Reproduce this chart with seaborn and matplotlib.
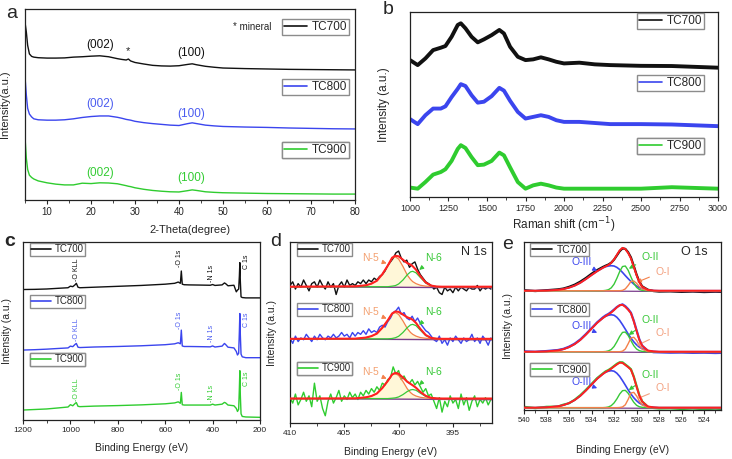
import numpy as np
import matplotlib
matplotlib.use("Agg")
import matplotlib.pyplot as plt
from matplotlib.lines import Line2D
from matplotlib.ticker import MultipleLocator
import seaborn as sns

W, H = 732, 459
names = ["TC700", "TC800", "TC900"]
line_colors = ["#111111", "#3b45ee", "#2fcc2f"]
text_colors = ["#111111", "#4b5cf0", "#33cc33"]

# ---- (a) XRD
xrd_theta = [5, 5.3, 5.6, 6, 6.5, 7, 8, 10, 12, 14, 16, 18, 20, 22, 24, 26, 27, 28, 28.5, 29,
             30, 32, 34, 36, 38, 40, 42, 43, 44, 46, 48, 50, 55, 60, 65, 70, 75, 80]
xrd_tc700 = [93, 88, 81, 76.5, 75.2, 74.8, 74.5, 74.3, 74.3, 74.4, 74.8, 75.0, 75.3, 75.5, 75.0, 74.0, 73.6,
             73.3, 73.8, 72.8, 72.0, 71.2, 70.5, 70.2, 70.1, 70.3, 71.0, 71.3, 70.8, 70.0, 69.5, 69.1,
             68.8, 68.6, 68.4, 68.3, 68.2, 68.1]
xrd_tc800 = [64.5, 55, 48, 45, 43.5, 42.5, 42.0, 41.8, 41.8, 42.0, 42.5, 43.2, 43.7, 44.0, 44.0, 43.3, 42.8,
             42.2, 42.0, 41.8, 41.2, 40.5, 40.0, 39.6, 39.2, 39.0, 40.0, 40.4, 40.0, 39.2, 38.8, 38.5,
             38.2, 38.0, 37.7, 37.5, 37.3, 37.2]
xrd_tc900 = [33, 22, 16, 13, 11.8, 11.0, 10.0, 9.0, 8.3, 7.9, 7.9, 8.8, 8.6, 9.0, 8.9, 8.5, 8.0,
             7.5, 7.2, 7.0, 6.4, 5.6, 5.0, 4.6, 4.3, 4.2, 4.9, 5.3, 5.0, 4.3, 4.0, 3.8,
             3.6, 3.4, 3.3, 3.2, 3.1, 3.1]

# ---- (b) Raman
raman_shift = [1000, 1050, 1100, 1150, 1200, 1230, 1270, 1310, 1330, 1360, 1400, 1440, 1480, 1530, 1580,
               1610, 1650, 1700, 1750, 1800, 1850, 1900, 1950, 2000, 2100, 2200, 2300, 2500, 2700, 3000]
raman_tc700 = [74.0, 71.3, 74.9, 79.4, 80.7, 81.6, 86.6, 93.0, 93.9, 91.2, 86.6, 83.6, 85.2, 87.5, 90.3,
               88.4, 81.2, 75.8, 74.0, 74.4, 75.5, 74.4, 73.1, 72.2, 72.6, 71.7, 71.3, 70.9, 70.8, 69.9]
raman_tc800 = [42.1, 39.4, 44.2, 47.8, 47.8, 49.0, 54.0, 58.5, 61.0, 60.0, 55.0, 51.0, 51.5, 54.5, 59.0,
               57.5, 52.0, 46.0, 42.4, 43.3, 44.2, 43.3, 41.5, 40.6, 40.6, 40.0, 39.4, 39.4, 39.2, 38.3]
raman_tc900 = [5.1, 4.5, 8.1, 12.1, 13.5, 15.0, 19.5, 26.0, 28.0, 26.5, 21.5, 17.2, 17.5, 19.5, 24.0,
               22.5, 16.0, 8.1, 4.5, 6.3, 7.2, 6.3, 5.1, 4.5, 4.5, 4.5, 4.5, 4.5, 5.3, 4.5]

# ---- (c) XPS survey
survey_ev = [1200, 1150, 1100, 1050, 1010, 1000, 990, 980, 975, 968, 960, 900, 800, 700, 600, 560, 545,
             536, 532, 528, 520, 500, 450, 410, 400, 390, 360, 350, 345, 335, 310, 300, 295, 290, 287,
             285, 283, 280, 275, 260, 230, 200]
survey_tc700 = [73.3, 73.4, 73.6, 74.0, 74.3, 75.2, 74.9, 76.0, 76.8, 74.6, 74.3, 74.6, 75.1, 75.6, 76.3,
                76.8, 77.5, 76.8, 83.7, 76.3, 76.0, 75.9, 75.8, 75.7, 76.1, 75.6, 75.9, 77.0, 76.6, 75.4,
                75.7, 72.0, 73.0, 73.5, 81.0, 88.4, 78.0, 69.2, 68.8, 68.6, 68.6, 68.6]
survey_tc800 = [39.3, 39.5, 39.8, 40.2, 40.5, 41.5, 41.2, 42.5, 43.0, 40.9, 40.7, 41.0, 41.3, 41.7, 42.3,
                42.8, 43.4, 42.8, 50.5, 41.6, 41.3, 41.3, 41.2, 41.1, 41.6, 41.0, 41.5, 43.0, 42.4, 40.9,
                40.5, 38.5, 36.5, 37.5, 50.0, 59.8, 48.0, 37.0, 35.5, 35.0, 35.0, 35.0]
survey_tc900 = [5.6, 5.9, 6.2, 6.8, 7.3, 8.6, 8.0, 9.3, 9.8, 7.7, 7.5, 7.8, 8.1, 8.5, 9.1,
                9.6, 10.2, 9.4, 15.5, 8.6, 8.4, 8.4, 8.4, 8.4, 8.9, 8.4, 8.9, 9.9, 9.6, 8.4,
                8.0, 6.5, 4.8, 6.0, 18.0, 27.7, 14.0, 3.5, 2.0, 1.7, 1.6, 1.5]
survey_labels = ["-O KLL", "-O 1s", "-N 1s", "C 1s"]
survey_label_ev = [973.6, 537.6, 404, 256]
survey_label_y = [[84.5, 90.7, 82.2, 88.8], [50.5, 56.1, 48.6, 56.1], [16.8, 21.5, 15.0, 23.4]]

# ---- (d) N 1s
n1s_ev = np.arange(410, 391.49, -0.25)
n1s_tc700 = [76, 78, 74, 77, 75, 79, 76, 73, 77, 78, 75, 79, 76, 74, 78, 75, 77, 71, 76, 78,
             75, 79, 76, 77, 76, 78, 77, 79, 77, 79, 78, 80, 79, 81, 82, 84, 87, 89, 91, 94,
             95, 91, 89, 90, 86, 88, 89, 85, 82, 80, 78, 77, 76, 74, 75, 72, 71, 75, 73, 74,
             72, 75, 73, 75, 74, 73, 75, 74, 74, 76, 73, 75, 74, 75, 74]
n1s_tc800 = [47, 44, 48, 45, 47, 46, 49, 47, 45, 48, 46, 49, 47, 46, 48, 47, 49, 47, 48, 50,
             48, 49, 47, 50, 48, 50, 49, 51, 49, 52, 50, 51, 50, 53, 54, 53, 56, 58, 61, 62,
             64, 60, 61, 58, 57, 59, 56, 58, 55, 53, 51, 50, 48, 46, 45, 48, 44, 46, 43, 47,
             45, 48, 46, 44, 47, 45, 46, 49, 45, 47, 44, 48, 46, 43, 47]
n1s_tc900 = [14, 11, 16, 10, 13, 17, 12, 15, 9, 22, 12, 15, 8, 4, 12, 16, 11, 14, 18, 12,
             15, 13, 17, 14, 16, 13, 17, 15, 18, 16, 19, 17, 20, 18, 22, 21, 24, 25, 31, 27,
             29, 24, 26, 23, 22, 24, 21, 23, 20, 17, 19, 15, 16, 12, 8, 14, 6, 12, 9, 15,
             11, 13, 8, 16, 10, 14, 7, 12, 15, 9, 13, 11, 14, 10, 13]
n1s_fit_ev = [410, 404, 403, 402.5, 402, 401.5, 401, 400.6, 400.3, 400, 399.6, 399.2, 398.9, 398.7,
              398.4, 398, 397.5, 397, 396.5, 396, 395, 391.4]
n1s_base = [75.3, 46.5, 13.5]
n5_fit = [[0, 0.2, 0.8, 1.7, 3.3, 6.9, 11.6, 15.7, 16.5, 15.3, 11.2, 6.4, 4.0, 2.8, 1.7, 0.8, 0.3, 0.2, 0, 0, 0, 0],
          [0, 0.1, 0.7, 1.5, 2.9, 6.1, 10.2, 13.8, 14.5, 13.5, 9.9, 5.7, 3.5, 2.5, 1.5, 0.7, 0.3, 0.1, 0, 0, 0, 0],
          [0, 0.1, 0.7, 1.4, 2.8, 5.8, 9.7, 13.1, 13.8, 12.8, 9.4, 5.4, 3.3, 2.3, 1.4, 0.7, 0.3, 0.1, 0, 0, 0, 0]]
n6_fit = [[0, 0, 0, 0, 0, 0, 0, 0.3, 0.6, 1.5, 3.7, 6.6, 8.2, 8.5, 7.7, 5.1, 2.0, 0.4, 0.1, 0, 0, 0],
          [0, 0, 0, 0, 0, 0, 0, 0.2, 0.6, 1.4, 3.5, 6.2, 7.7, 8.0, 7.3, 4.8, 1.8, 0.4, 0.1, 0, 0, 0],
          [0, 0, 0, 0, 0, 0, 0, 0.2, 0.4, 0.9, 2.2, 3.9, 4.8, 5.0, 4.6, 3.0, 1.2, 0.3, 0.1, 0, 0, 0]]
n1s_env = [[0, 0.2, 0.8, 1.7, 3.3, 6.9, 11.6, 16.0, 17.1, 16.8, 14.9, 13.0, 12.2, 11.3, 9.4, 5.9, 2.3, 0.6, 0.1, 0, 0, 0],
           [0, 0.1, 0.7, 1.5, 2.9, 6.1, 10.2, 14.0, 15.1, 14.9, 13.4, 11.9, 11.2, 10.5, 8.8, 5.5, 2.1, 0.5, 0.1, 0, 0, 0],
           [0, 0.1, 0.7, 1.4, 2.8, 5.8, 9.7, 13.3, 14.2, 13.7, 11.6, 9.3, 8.1, 7.3, 6.0, 3.7, 1.5, 0.4, 0.1, 0, 0, 0]]

# ---- (e) O 1s
o1s_ev = [540, 539, 538, 537, 536.5, 536, 535.5, 535, 534.5, 534, 533.5, 533, 532.75, 532.5, 532.25, 532,
          531.75, 531.5, 531.25, 531, 530.75, 530.5, 530.25, 530, 529.75, 529.5, 529, 528.5, 528, 527,
          526, 525, 524, 523, 522.5]
o1s_base = [71.0, 34.7, 1.4]
o3_fit = [[0, 0, 0.1, 0.5, 1.0, 1.8, 3.0, 4.7, 6.9, 9.3, 11.6, 13.6, 14.3, 14.7, 14.9, 14.7, 13.9, 12.6, 10.9, 9.0,
           7.2, 5.5, 4.0, 2.8, 1.8, 1.2, 0.4, 0.1, 0, 0, 0, 0, 0, 0, 0],
          [0, 0, 0.2, 0.8, 1.5, 2.7, 4.5, 7.0, 10.2, 13.7, 17.2, 20.0, 21.1, 21.7, 22.0, 21.7, 20.5, 18.6, 16.1, 13.4,
           10.6, 8.1, 5.9, 4.1, 2.7, 1.8, 0.6, 0.2, 0, 0, 0, 0, 0, 0, 0],
          [0, 0, 0.2, 0.8, 1.5, 2.7, 4.5, 7.0, 10.2, 13.7, 17.2, 20.0, 21.1, 21.7, 22.0, 21.7, 20.5, 18.6, 16.1, 13.4,
           10.6, 8.1, 5.9, 4.1, 2.7, 1.8, 0.6, 0.2, 0, 0, 0, 0, 0, 0, 0]]
o2_fit = [[0, 0, 0, 0, 0, 0, 0, 0, 0, 0, 0, 0, 0.2, 0.6, 1.7, 3.9, 7.4, 11.4, 14.4, 14.7,
           12.2, 8.2, 4.5, 2.0, 0.7, 0.2, 0, 0, 0, 0, 0, 0, 0, 0, 0],
          [0, 0, 0, 0, 0, 0, 0, 0, 0, 0, 0, 0, 0.1, 0.5, 1.3, 3.1, 5.9, 9.1, 11.5, 11.7,
           9.7, 6.6, 3.6, 1.6, 0.6, 0.2, 0, 0, 0, 0, 0, 0, 0, 0, 0],
          [0, 0, 0, 0, 0, 0, 0, 0, 0, 0, 0, 0, 0.1, 0.4, 1.2, 2.8, 5.2, 8.1, 10.1, 10.3,
           8.6, 5.8, 3.2, 1.4, 0.5, 0.2, 0, 0, 0, 0, 0, 0, 0, 0, 0]]
o1_fit = [[0, 0, 0, 0, 0, 0, 0, 0, 0, 0, 0, 0, 0, 0, 0, 0, 0, 0, 0.2, 1.1,
           3.1, 5.5, 5.8, 4.4, 2.5, 1.0, 0.1, 0, 0, 0, 0, 0, 0, 0, 0],
          [0, 0, 0, 0, 0, 0, 0, 0, 0, 0, 0, 0, 0, 0, 0, 0, 0, 0, 0.3, 1.6,
           4.7, 8.2, 8.6, 6.7, 3.7, 1.5, 0.1, 0, 0, 0, 0, 0, 0, 0, 0],
          [0, 0, 0, 0, 0, 0, 0, 0, 0, 0, 0, 0, 0, 0, 0, 0, 0, 0.1, 0.4, 1.7,
           4.9, 8.7, 9.1, 7.0, 3.9, 1.6, 0.1, 0, 0, 0, 0, 0, 0, 0, 0]]
o1s_env = [[0, 0, 0.1, 0.5, 1.0, 1.8, 3.0, 4.7, 6.9, 9.3, 11.6, 13.6, 14.5, 15.3, 16.6, 18.6, 21.3, 24.0, 25.5, 24.8,
            22.5, 19.2, 14.3, 9.2, 5.0, 2.4, 0.5, 0.1, 0, 0, 0, 0, 0, 0, 0],
           [0, 0, 0.2, 0.8, 1.5, 2.7, 4.5, 7.0, 10.2, 13.7, 17.2, 20.0, 21.2, 22.2, 23.3, 24.8, 26.4, 27.7, 27.9, 26.7,
            25.0, 22.9, 18.1, 12.4, 7.0, 3.5, 0.7, 0.2, 0, 0, 0, 0, 0, 0, 0],
           [0, 0, 0.2, 0.8, 1.5, 2.7, 4.5, 7.0, 10.2, 13.7, 17.2, 20.0, 21.2, 22.1, 23.2, 24.5, 25.7, 26.8, 26.6, 25.4,
            24.1, 22.6, 18.2, 12.5, 7.1, 3.6, 0.7, 0.2, 0, 0, 0, 0, 0, 0, 0]]
o1s_raw = [[0.3, -0.2, 0.3, 0.8, 1.3, 2.3, 3.6, 5.4, 7.6, 10.1, 12.3, 14.1, 14.9, 15.6, 16.7, 18.5, 21.0, 23.5, 25.2,
            24.9, 22.9, 19.8, 14.8, 9.6, 5.3, 2.6, 0.6, -0.2, -0.5, -0.4, -0.7, -0.5, -0.8, -0.6, -0.7],
           [0.2, -0.1, 0.4, 1.0, 1.7, 3.0, 4.8, 7.3, 10.5, 14.0, 17.5, 20.4, 21.6, 22.5, 23.7, 25.1, 26.6, 27.6, 28.2,
            27.1, 25.4, 23.2, 18.5, 12.8, 7.3, 3.6, 0.5, -0.3, -0.4, -0.6, -0.5, -0.7, -0.6, -0.8, -0.7],
           [0.5, -0.3, 0.5, 0.6, 1.8, 2.6, 4.7, 7.4, 10.6, 14.1, 17.6, 20.3, 21.6, 22.4, 23.5, 24.8, 26.1, 27.0, 27.0,
            25.7, 24.4, 22.9, 18.6, 12.9, 7.4, 3.7, 0.5, -0.2, -0.5, -0.4, -0.8, -0.5, -0.9, -0.6, -0.8]]

RED = "#ff2020"
ORANGE = "#f4804a"
GREEN = "#38c838"
BLUE = "#3b45ee"
PURPLE = "#7a3d8c"
SALMON = "#f3a07f"

sns.set_style("ticks")
plt.rcParams["font.family"] = ["Liberation Sans", "DejaVu Sans"]
plt.rcParams["axes.edgecolor"] = "#222222"

fig = plt.figure(figsize=(W / 100, H / 100), dpi=100)


def make_axes(left, top, right, bottom):
    return fig.add_axes([left / W, 1 - bottom / H, (right - left) / W, (bottom - top) / H])


def style(ax, xlim, major, minor, fs, xlabel, ylabel, lab_fs, ylab_x, xlab_y):
    ax.set_xlim(*xlim)
    ax.set_ylim(0, 100)
    ax.set_yticks([])
    ax.xaxis.set_major_locator(MultipleLocator(major))
    ax.xaxis.set_minor_locator(MultipleLocator(minor))
    ax.tick_params(axis="x", which="major", direction="out", length=3, width=0.8, labelsize=fs, pad=2)
    ax.tick_params(axis="x", which="minor", direction="out", length=2, width=0.6)
    ax.set_xlabel(xlabel, fontsize=lab_fs)
    ax.set_ylabel(ylabel, fontsize=lab_fs)
    ax.xaxis.set_label_coords(0.5, xlab_y)
    ax.yaxis.set_label_coords(ylab_x, 0.5)
    for sp in ax.spines.values():
        sp.set_linewidth(0.9)


def line(ax, x, y, color, lw, z=2):
    sns.lineplot(x=np.asarray(x, float), y=np.asarray(y, float), ax=ax, color=color, linewidth=lw,
                 estimator=None, sort=False, errorbar=None, zorder=z)


def tag(ax, name, color, px, py, fs, lw=1.2):
    h = Line2D([], [], color=color, lw=lw)
    leg = ax.legend([h], [name], loc="upper left", bbox_to_anchor=(px / W, 1 - py / H),
                    bbox_transform=fig.transFigure, fontsize=fs, frameon=True, fancybox=False,
                    edgecolor="#8c8c8c", framealpha=1, handlelength=2.0, handletextpad=0.4,
                    borderpad=0.15, borderaxespad=0)
    leg.get_frame().set_linewidth(1.0)
    ax.add_artist(leg)


# ---------------- panel a
ax = make_axes(25, 9, 355, 200)
for ys, c in zip([xrd_tc700, xrd_tc800, xrd_tc900], line_colors):
    line(ax, xrd_theta, ys, c, 1.0)
style(ax, (5, 80), 10, 5, 7, "2-Theta(degree)", "Intensity(a.u.)", 8, -0.045, -0.13)
for i, (y002, y100) in enumerate([(81, 77), (50.3, 45), (14, 11.5)]):
    ax.text(22, y002, "(002)", color=text_colors[i], fontsize=8.5, ha="center", va="center")
    ax.text(42.7, y100, "(100)", color=text_colors[i], fontsize=8.5, ha="center", va="center")
ax.text(28.4, 78, "*", fontsize=8, ha="center", va="center")
ax.text(56.6, 90.5, "* mineral", fontsize=7, ha="center", va="center")
for n, c, py in zip(names, line_colors, [19, 79, 142]):
    tag(ax, n, c, 282, py, 8.5)

# ---------------- panel b
ax = make_axes(410, 12, 718, 197)
for ys, c in zip([raman_tc700, raman_tc800, raman_tc900], line_colors):
    line(ax, raman_shift, ys, c, 2.8)
style(ax, (1000, 3000), 250, 125, 6.5, "Raman shift (cm$^{-1}$)", "Intensity (a.u.)", 8.5, -0.065, -0.10)
for n, c, py in zip(names, line_colors, [13, 75, 138]):
    tag(ax, n, c, 637, py, 8.5)

# ---------------- panel c
ax = make_axes(23, 242, 260, 420)
for i, ys in enumerate([survey_tc700, survey_tc800, survey_tc900]):
    line(ax, survey_ev, ys, line_colors[i], 1.0)
    for lab, ev, yy in zip(survey_labels, survey_label_ev, survey_label_y[i]):
        ax.text(ev, yy, lab, rotation=90, fontsize=5, color=text_colors[i], ha="center", va="center")
style(ax, (1200, 200), 200, 100, 6, "Binding Energy (eV)", "Intensity (a.u.)", 7.5, -0.046, -0.13)
for n, c, py in zip(names, line_colors, [243, 295, 353]):
    tag(ax, n, c, 30, py, 7)

# ---------------- panel d
ax = make_axes(290, 242, 492, 423)
raws = [n1s_tc700, n1s_tc800, n1s_tc900]
for i in range(3):
    b = n1s_base[i]
    ax.fill_between(n1s_fit_ev, b, np.add(b, n5_fit[i]), color="#fff5cf", alpha=0.8, lw=0, zorder=1)
    line(ax, n1s_ev, raws[i], line_colors[i], 1.0, z=2)
    line(ax, [410, 391.4], [b, b - 0.6], PURPLE, 1.0, z=3)
    line(ax, n1s_fit_ev, np.add(b, n5_fit[i]), ORANGE, 0.9, z=3)
    line(ax, n1s_fit_ev, np.add(b, n6_fit[i]), GREEN, 0.9, z=3)
    line(ax, n1s_fit_ev, np.add(b, n1s_env[i]), RED, 1.5, z=4)
style(ax, (410, 391.4), 5, 2.5, 6, "Binding Energy (eV)", "Intensity (a.u.)", 7.5, -0.064, -0.13)
for ty, t5, t6 in zip([91, 61.4, 28.2], [88.2, 57.7, 24.5], [83.6, 53.1, 19.9]):
    ax.annotate("N-5", xy=(401.1, t5), xytext=(402.6, ty), color="#f4a070", fontsize=7.5,
                ha="center", va="center",
                arrowprops=dict(arrowstyle="-|>", color=ORANGE, lw=0.8, mutation_scale=6))
    ax.annotate("N-6", xy=(398.3, t6), xytext=(396.8, ty), color=GREEN, fontsize=7.5,
                ha="center", va="center",
                arrowprops=dict(arrowstyle="-|>", color=GREEN, lw=0.8, mutation_scale=6))
ax.text(0.975, 0.945, "N 1s", transform=ax.transAxes, fontsize=9, ha="right", va="center")
for n, c, py in zip(names, line_colors, [243, 303, 362]):
    tag(ax, n, c, 297, py, 7)

# ---------------- panel e
ax = make_axes(524, 242, 721, 410)
for i in range(3):
    b = o1s_base[i]
    line(ax, o1s_ev, np.add(b, o1s_raw[i]), line_colors[i], 1.6, z=2)
    line(ax, [540, 522.5], [b, b - 0.6], PURPLE, 0.9, z=3)
    line(ax, o1s_ev, np.add(b, o3_fit[i]), BLUE, 1.2, z=3)
    line(ax, o1s_ev, np.add(b, o2_fit[i]), GREEN, 1.0, z=3)
    line(ax, o1s_ev, np.add(b, o1_fit[i]), ORANGE, 1.0, z=3)
    line(ax, o1s_ev, np.add(b, o1s_env[i]), RED, 1.4, z=4)
style(ax, (540, 522.5), 2, 1, 5.5, "Binding Energy (eV)", "Intensity (a.u.)", 7.5, -0.056, -0.21)
e_lab = [(88.0, 82.8, 91.3, 83.3, 82.3, 75.4), (50.0, 46.0, 53.6, 43.7, 45.6, 37.7),
         (16.5, 13.0, 20.8, 10.9, 12.9, 6.0)]
for i, (y3, t3, y2, t2, y1, t1) in enumerate(e_lab):
    ax.annotate("O-III", xy=(533.5, t3), xytext=(534.9, y3), color=BLUE, fontsize=7.5,
                ha="center", va="center",
                arrowprops=dict(arrowstyle="-|>", color=BLUE, lw=0.8, mutation_scale=6))
    ax.annotate("O-II", xy=(530.9, t2), xytext=(528.8, y2), color=GREEN, fontsize=7.5,
                ha="center", va="center",
                arrowprops=dict(arrowstyle="-|>", color=GREEN, lw=0.8, mutation_scale=6))
    oc = ORANGE if i == 0 else SALMON
    ax.annotate("O-I", xy=(530.2, t1), xytext=(527.7, y1), color=SALMON, fontsize=7.5,
                ha="center", va="center",
                arrowprops=dict(arrowstyle="-|>", color=oc, lw=0.8, mutation_scale=6))
ax.text(0.934, 0.94, "O 1s", transform=ax.transAxes, fontsize=9, ha="right", va="center")
for n, c, py in zip(names, line_colors, [243, 303, 363]):
    tag(ax, n, c, 530, py, 7.5)

# panel letters
for lab, px, py, wt in [("a", 12, 13, "normal"), ("b", 388, 10, "normal"), ("c", 10, 242, "bold"),
                        ("d", 276, 242, "normal"), ("e", 508, 245, "normal")]:
    fig.text(px / W, 1 - py / H, lab, fontsize=14, ha="center", va="center", weight=wt)

fig.savefig("out.png", dpi=100)
